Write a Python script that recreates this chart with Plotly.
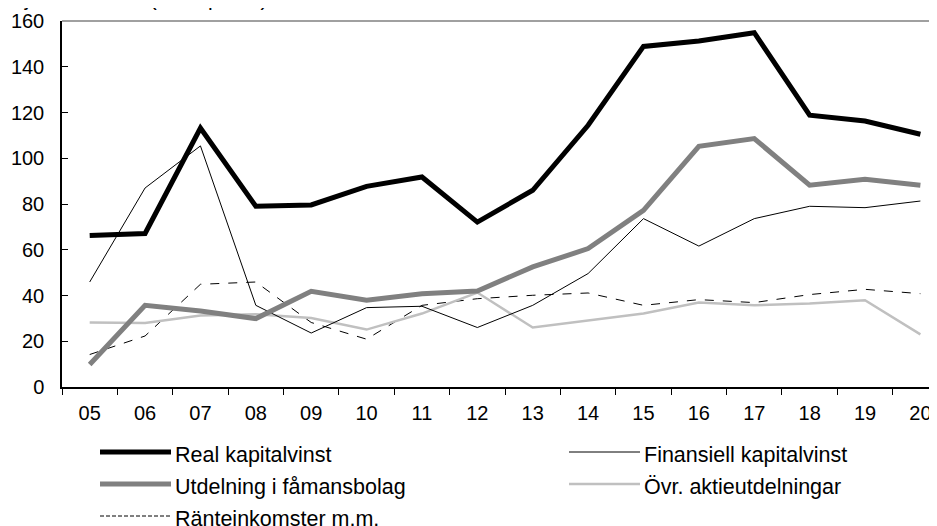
import plotly.graph_objects as go

years = ['05', '06', '07', '08', '09', '10', '11', '12',
         '13', '14', '15', '16', '17', '18', '19', '20']

real_kapitalvinst = [66.2, 67.1, 113.2, 79.0, 79.6, 87.7, 91.8, 72.1,
                     86.0, 114.4, 148.9, 151.3, 154.9, 118.8, 116.3, 110.5]
finansiell_kapitalvinst = [45.9, 87.0, 105.4, 35.7, 23.6, 34.7, 35.3, 26.0,
                           35.7, 49.6, 73.6, 61.6, 73.6, 79.0, 78.4, 81.3]
utdelning_famansbolag = [9.8, 35.7, 33.2, 29.9, 41.8, 37.9, 40.8, 42.0,
                         52.5, 60.5, 77.2, 105.2, 108.6, 88.2, 90.8, 88.2]
ovr_aktieutdelningar = [28.2, 28.0, 31.3, 31.8, 30.2, 25.1, 32.1, 41.3,
                        26.0, 28.9, 32.1, 36.9, 35.7, 36.5, 37.9, 23.0]
ranteinkomster = [14.2, 22.3, 44.9, 45.9, 28.2, 20.9, 35.7, 38.6,
                  40.1, 41.1, 35.7, 38.2, 36.9, 40.4, 42.7, 40.8]

y_ticks = [0, 20, 40, 60, 80, 100, 120, 140, 160]

FONT = 'Liberation Sans, Arial, sans-serif'

# name, values, colour, width, dash
series = [
    ('Ränteinkomster m.m.', ranteinkomster, 'black', 1, 'dash'),
    ('Övr. aktieutdelningar', ovr_aktieutdelningar, '#c0c0c0', 2.5, 'solid'),
    ('Finansiell kapitalvinst', finansiell_kapitalvinst, 'black', 1, 'solid'),
    ('Utdelning i fåmansbolag', utdelning_famansbolag, '#808080', 5, 'solid'),
    ('Real kapitalvinst', real_kapitalvinst, 'black', 5, 'solid'),
]

fig = go.Figure()
for name, vals, col, w, dash in series:
    fig.add_trace(go.Scatter(
        x=years, y=vals, name=name, mode='lines',
        line=dict(color=col, width=w, dash=dash),
        showlegend=False
    ))

# hand-made legend so the line samples are long like the original
# (positions in page pixels; plot area runs 62..937 x 21..387)
legend_items = [
    ('Real kapitalvinst', 'black', 5, 'solid', 0, 0),
    ('Finansiell kapitalvinst', 'black', 1, 'solid', 1, 0),
    ('Utdelning i fåmansbolag', '#808080', 5, 'solid', 0, 1),
    ('Övr. aktieutdelningar', '#c0c0c0', 2.5, 'solid', 1, 1),
    ('Ränteinkomster m.m.', 'black', 1, 'dash', 0, 2),
]
col_x = [100, 569]
row_y = [452, 484, 516]
for name, col, w, dash, c, r in legend_items:
    x0 = col_x[c]
    y0 = row_y[r]
    fig.add_shape(type='line', xref='paper', yref='paper',
                  x0=(x0 - 62) / 875, x1=(x0 + 71 - 62) / 875,
                  y0=(387 - y0) / 366, y1=(387 - y0) / 366,
                  line=dict(color=col, width=w, dash='4px,2px' if dash == 'dash' else 'solid'))
    fig.add_annotation(text=name, xref='paper', yref='paper',
                       x=(x0 + 73 - 62) / 875, y=(387 - y0 - 3) / 366,
                       xanchor='left', yanchor='middle', showarrow=False,
                       font=dict(size=21.5, color='black', family=FONT))

# top frame line
fig.add_shape(type='line', xref='paper', yref='paper', x0=0, x1=1, y0=1, y1=1,
              line=dict(color='#808080', width=1.5))

# unit text, mostly cut off by the top edge as in the original
fig.add_annotation(text='Miljarder kronor (fasta priser)', xref='paper', yref='paper',
                   x=0, y=1, xshift=-66, yshift=9, xanchor='left', yanchor='bottom',
                   showarrow=False, font=dict(size=21, color='black', family=FONT))

fig.update_xaxes(
    type='category', range=[-0.5, 15.3], automargin=False,
    showline=True, linecolor='black', linewidth=1.5,
    ticks='outside', tickson='boundaries', ticklen=6, tickcolor='black',
    showgrid=False, ticklabelstandoff=7,
    tickfont=dict(size=20, color='black', family=FONT),
)
fig.update_yaxes(
    range=[0, 160], tickvals=y_ticks, automargin=False,
    showline=True, linecolor='black', linewidth=1.5,
    ticks='inside', ticklen=6, tickcolor='black',
    showgrid=False, zeroline=False, ticklabelstandoff=12,
    tickfont=dict(size=20, color='black', family=FONT),
)
# the page body adds an 8px offset, so margins are trimmed by that much
fig.update_layout(
    width=937, height=526,
    margin=dict(l=54, r=8, t=13, b=147),
    paper_bgcolor='white', plot_bgcolor='white',
    showlegend=False,
)

fig.write_html('out.html')
